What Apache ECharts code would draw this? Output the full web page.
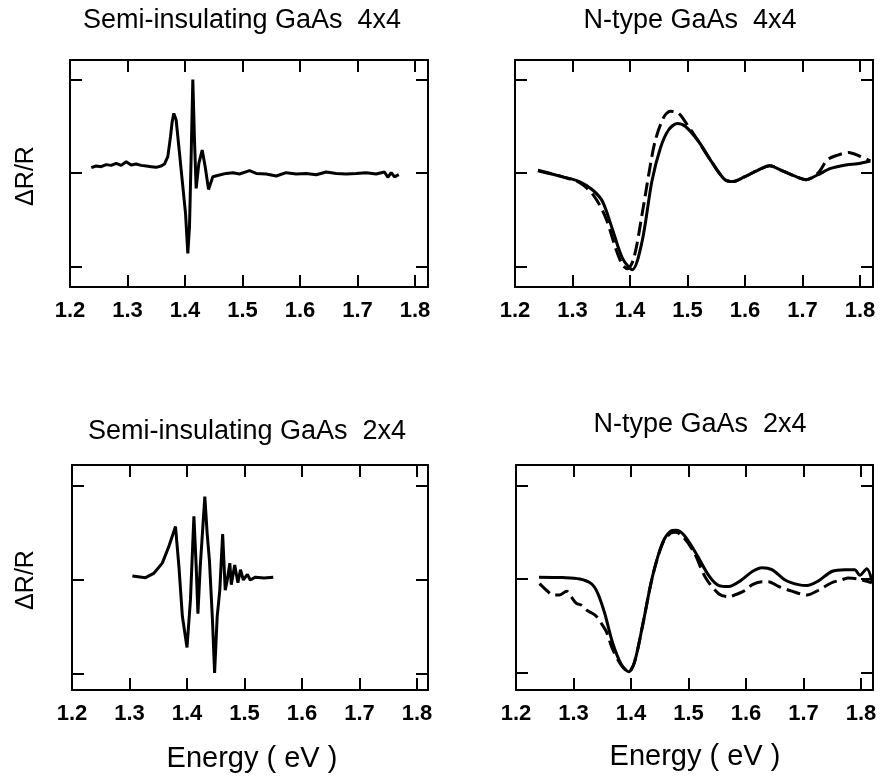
<!DOCTYPE html>
<html>
<head>
<meta charset="utf-8">
<script src="https://cdn.jsdelivr.net/npm/echarts@6/dist/echarts.min.js"></script>
<style>
  html, body { margin: 0; padding: 0; background: #fff; }
  #chart { width: 882px; height: 784px; }
</style>
</head>
<body>
<div id="chart"></div>
<script>
// tick labels shared by every panel
const xTicks = [1.2, 1.3, 1.4, 1.5, 1.6, 1.7, 1.8];
const yTicks = [-1, 0, 1];

const titles = ['Semi-insulating GaAs  4x4', 'N-type GaAs  4x4', 'Semi-insulating GaAs  2x4', 'N-type GaAs  2x4'];

// [energy, dR/R]
const semi4x4 = [
  [1.237, 0.057], [1.2455, 0.075], [1.2542, 0.068], [1.2629, 0.09], [1.2716, 0.082],
  [1.2803, 0.104], [1.289, 0.082], [1.2977, 0.121], [1.3064, 0.086], [1.3151, 0.096],
  [1.3238, 0.082], [1.3325, 0.075], [1.3412, 0.068], [1.3499, 0.061], [1.3586, 0.075],
  [1.3643, 0.096], [1.3701, 0.175], [1.3748, 0.389], [1.3777, 0.549], [1.3806, 0.638],
  [1.3846, 0.567], [1.3893, 0.282], [1.3951, -0.075], [1.4009, -0.43], [1.4049, -0.86],
  [1.4078, -0.574], [1.4107, 0.175], [1.4136, 1.0], [1.4165, 0.353], [1.4194, -0.164],
  [1.4241, 0.104], [1.4299, 0.246], [1.4351, 0.068], [1.4409, -0.175], [1.4484, -0.04],
  [1.46, -0.021], [1.4717, -0.004], [1.4832, 0.004], [1.4948, -0.01], [1.5122, 0.025],
  [1.5238, -0.004], [1.5412, -0.01], [1.5586, -0.032], [1.576, 0.004], [1.5934, -0.01],
  [1.6108, -0.004], [1.6282, -0.018], [1.6456, 0.011], [1.663, -0.004], [1.6804, -0.01],
  [1.6977, -0.004], [1.7151, 0.004], [1.7325, -0.01], [1.747, 0.011], [1.7527, -0.046],
  [1.7586, 0.004], [1.7643, -0.04], [1.7718, -0.018]
];

const ntype4x4 = [
  [1.24, 0.025], [1.283, -0.04], [1.312, -0.09], [1.335, -0.18], [1.352, -0.3],
  [1.369, -0.59], [1.387, -0.91], [1.404, -1.03], [1.421, -0.73], [1.438, -0.09],
  [1.453, 0.27], [1.467, 0.46], [1.482, 0.53], [1.496, 0.5], [1.519, 0.34],
  [1.542, 0.12], [1.565, -0.07], [1.579, -0.09], [1.599, -0.04], [1.622, 0.03],
  [1.643, 0.08], [1.663, 0.03], [1.686, -0.03], [1.706, -0.07], [1.726, -0.02],
  [1.749, 0.05], [1.778, 0.09], [1.795, 0.1], [1.818, 0.13]
];

const ntype4x4Dash = [
  [1.24, 0.03], [1.283, -0.04], [1.312, -0.1], [1.337, -0.24], [1.358, -0.48],
  [1.375, -0.8], [1.387, -0.98], [1.396, -1.02], [1.407, -0.9], [1.421, -0.44],
  [1.433, 0.0], [1.444, 0.35], [1.459, 0.6], [1.47, 0.66], [1.484, 0.64],
  [1.498, 0.53], [1.519, 0.34], [1.542, 0.12], [1.565, -0.07], [1.579, -0.09],
  [1.599, -0.04], [1.622, 0.03], [1.643, 0.08], [1.663, 0.03], [1.686, -0.03],
  [1.706, -0.07], [1.727, 0.0], [1.743, 0.14], [1.76, 0.19], [1.78, 0.22],
  [1.8, 0.18], [1.818, 0.13]
];

const semi2x4 = [
  [1.305, 0.043], [1.328, 0.025], [1.342, 0.07], [1.357, 0.18], [1.368, 0.35],
  [1.38, 0.57], [1.386, 0.14], [1.392, -0.39], [1.4, -0.72], [1.406, -0.21],
  [1.412, 0.68], [1.416, 0.14], [1.419, -0.36], [1.423, 0.14], [1.431, 0.89],
  [1.435, 0.5], [1.439, 0.21], [1.444, -0.39], [1.448, -0.99], [1.4525, -0.39],
  [1.457, -0.11], [1.462, 0.49], [1.4665, -0.11], [1.47, 0.0], [1.4745, 0.18],
  [1.477, -0.05], [1.483, 0.16], [1.4885, -0.03], [1.493, 0.11], [1.498, 0.0],
  [1.505, 0.06], [1.51, 0.0], [1.519, 0.03], [1.534, 0.02], [1.55, 0.03]
];

const ntype2x4 = [
  [1.24, 0.02], [1.282, 0.015], [1.311, 0.0], [1.331, -0.05], [1.342, -0.15],
  [1.354, -0.36], [1.368, -0.68], [1.383, -0.91], [1.396, -0.99], [1.406, -0.89],
  [1.42, -0.5], [1.4375, 0.03], [1.455, 0.39], [1.469, 0.51], [1.478, 0.52],
  [1.492, 0.47], [1.5125, 0.28], [1.536, 0.03], [1.553, -0.07], [1.57, -0.08],
  [1.59, -0.02], [1.611, 0.08], [1.628, 0.12], [1.645, 0.1], [1.668, -0.01],
  [1.691, -0.06], [1.706, -0.07], [1.726, -0.02], [1.749, 0.08], [1.772, 0.1],
  [1.789, 0.1], [1.798, 0.04], [1.81, 0.11], [1.819, -0.02]
];

const ntype2x4Dash = [
  [1.241, -0.05], [1.253, -0.12], [1.2645, -0.17], [1.276, -0.17], [1.288, -0.13],
  [1.296, -0.19], [1.305, -0.26], [1.314, -0.28], [1.322, -0.33], [1.331, -0.36],
  [1.34, -0.4], [1.348, -0.47], [1.357, -0.56], [1.368, -0.75], [1.383, -0.92],
  [1.396, -0.99], [1.406, -0.89], [1.42, -0.5], [1.4375, 0.03], [1.455, 0.38],
  [1.469, 0.49], [1.478, 0.5], [1.492, 0.44], [1.51, 0.28], [1.53, 0.01],
  [1.553, -0.16], [1.57, -0.19], [1.585, -0.16], [1.599, -0.12], [1.611, -0.06],
  [1.628, -0.03], [1.639, -0.03], [1.657, -0.08], [1.68, -0.13], [1.706, -0.17],
  [1.726, -0.12], [1.749, -0.04], [1.766, -0.01], [1.778, 0.01], [1.795, 0.0],
  [1.819, -0.04]
];

const FONT = '"Liberation Sans", Arial, Helvetica, sans-serif';

const grids = [
  { left: 70, top: 60, width: 358, height: 227, yMin: -1.219, yMax: 1.209 },
  { left: 515, top: 60, width: 358, height: 227, yMin: -1.215, yMax: 1.207 },
  { left: 72, top: 465, width: 356, height: 225, yMin: -1.173, yMax: 1.226 },
  { left: 516, top: 465, width: 357, height: 225, yMin: -1.185, yMax: 1.217 }
];

const axisLine = { show: true, onZero: false, lineStyle: { color: '#000', width: 2 } };
const tick = { show: true, inside: true, length: 12, lineStyle: { color: '#000', width: 2 } };

const xAxis = [];
const yAxis = [];
grids.forEach((g, i) => {
  const xBase = {
    type: 'value', gridIndex: i, min: 1.2, max: 1.2 + g.width / 575, interval: 0.1,
    axisLine: axisLine, splitLine: { show: false },
    axisTick: Object.assign({}, tick, { customValues: xTicks })
  };
  xAxis.push(Object.assign({}, xBase, {
    position: 'bottom',
    axisLabel: {
      customValues: xTicks, margin: 13, color: '#000', fontSize: 22,
      fontWeight: 'bold', fontFamily: FONT,
      formatter: v => v.toFixed(1)
    }
  }));
  xAxis.push(Object.assign({}, xBase, { position: 'top', axisLabel: { show: false } }));
  const yBase = {
    type: 'value', gridIndex: i, min: g.yMin, max: g.yMax,
    axisLine: axisLine, splitLine: { show: false },
    axisTick: Object.assign({}, tick, { customValues: yTicks }),
    axisLabel: { show: false }
  };
  yAxis.push(Object.assign({}, yBase, { position: 'left' }));
  yAxis.push(Object.assign({}, yBase, { position: 'right' }));
});

function line(data, i, dashed, smooth) {
  return {
    type: 'line', xAxisIndex: 2 * i, yAxisIndex: 2 * i, data: data,
    showSymbol: false, smooth: smooth, animation: false, silent: true,
    lineStyle: { color: '#000', width: 3, type: dashed ? [14, 6] : 'solid' }
  };
}

function text(str, x, y, size, rot) {
  return {
    type: 'text', x: x, y: y, rotation: rot || 0,
    style: {
      text: str, fill: '#000', font: size + 'px ' + FONT,
      textAlign: 'center', textVerticalAlign: 'middle'
    }
  };
}

const chart = echarts.init(document.getElementById('chart'), null, { renderer: 'canvas' });
chart.setOption({
  backgroundColor: '#fff',
  animation: false,
  grid: grids.map(g => ({ left: g.left, top: g.top, width: g.width, height: g.height })),
  xAxis: xAxis,
  yAxis: yAxis,
  series: [
    line(semi4x4, 0, false, false),
    line(ntype4x4Dash, 1, true, 0.3),
    line(ntype4x4, 1, false, 0.3),
    line(semi2x4, 2, false, false),
    line(ntype2x4Dash, 3, true, 0.3),
    line(ntype2x4, 3, false, 0.3)
  ],
  graphic: [
    text(titles[0], 242, 21, 27),
    text(titles[1], 690, 21, 27),
    text(titles[2], 247, 432, 27),
    text(titles[3], 700, 425, 27),
    text('ΔR/R', 26, 176, 25, Math.PI / 2),
    text('ΔR/R', 26, 580, 25, Math.PI / 2),
    text('Energy ( eV )', 252, 759, 29),
    text('Energy ( eV )', 695, 757, 29)
  ]
});
</script>
</body>
</html>
